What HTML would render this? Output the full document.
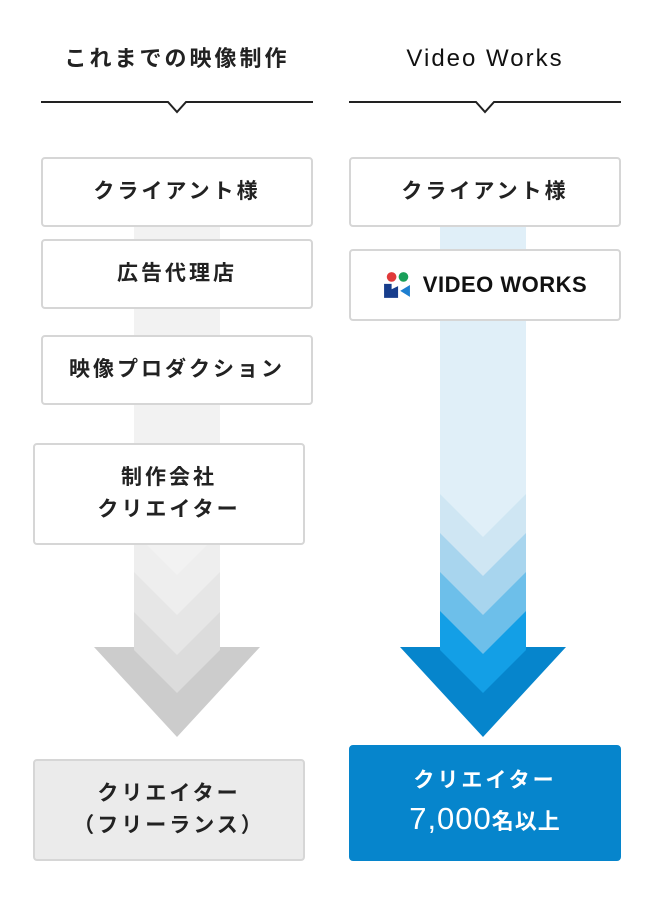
<!DOCTYPE html>
<html><head><meta charset="utf-8"><style>
body{margin:0;width:654px;height:910px;background:#fff;position:relative;overflow:hidden;font-family:"Liberation Sans","Noto Sans CJK JP",sans-serif;font-weight:bold;color:#222}
.t{position:absolute;text-align:center;font-size:22px;letter-spacing:3px;top:44px;width:272px;line-height:30px}
.b{position:absolute;box-sizing:border-box;border:2px solid #d6d6d6;border-radius:4px;background:#fff;display:flex;align-items:center;justify-content:center;text-align:center;font-size:21px;letter-spacing:3px;line-height:32px}
svg{position:absolute;left:0;top:0}
</style></head><body>
<svg width="654" height="910">
<g fill="none" stroke="#222" stroke-width="2">
<polyline points="41,102 168,102 177,112 186,102 313,102"/>
<polyline points="349,102 476,102 485,112 494,102 621,102"/>
</g>
<polygon fill="#cccccc" points="134,600 220,600 220,647 260,647 177,737 94,647 134,647"/>
<polygon fill="#dcdcdc" points="134,220 220,220 220,650 177,693 134,650"/>
<polygon fill="#e6e6e6" points="134,220 220,220 220,612 177,655 134,612"/>
<polygon fill="#eeeeee" points="134,220 220,220 220,572 177,615 134,572"/>
<polygon fill="#f2f2f2" points="134,220 220,220 220,532 177,575 134,532"/>
<polygon fill="#0685cc" points="440,600 526,600 526,647 566,647 483,737 400,647 440,647"/>
<polygon fill="#139fe6" points="440,220 526,220 526,650 483,693 440,650"/>
<polygon fill="#6dbfea" points="440,220 526,220 526,611 483,654 440,611"/>
<polygon fill="#a8d5ee" points="440,220 526,220 526,572 483,615 440,572"/>
<polygon fill="#cfe6f3" points="440,220 526,220 526,533 483,576 440,533"/>
<polygon fill="#e0eff8" points="440,220 526,220 526,494 483,537 440,494"/>
</svg>
<div class="t" style="left:41px">これまでの映像制作</div>
<div class="t" style="left:349px;font-family:'Liberation Sans',sans-serif;font-weight:normal;font-size:24px;letter-spacing:2px;color:#111">Video Works</div>
<div class="b" style="left:41px;top:157px;width:272px;height:70px">クライアント様</div>
<div class="b" style="left:41px;top:239px;width:272px;height:70px">広告代理店</div>
<div class="b" style="left:41px;top:335px;width:272px;height:70px">映像プロダクション</div>
<div class="b" style="left:33px;top:443px;width:272px;height:102px">制作会社<br>クリエイター</div>
<div class="b" style="left:33px;top:759px;width:272px;height:102px;background:#ebebeb">クリエイター<br>（フリーランス）</div>
<div class="b" style="left:349px;top:157px;width:272px;height:70px">クライアント様</div>
<div class="b" style="left:349px;top:249px;width:272px;height:72px;letter-spacing:0">
<svg width="28" height="28" style="position:static;margin-right:12px" viewBox="0 0 26 26">
<circle cx="8" cy="5.5" r="4.5" fill="#e03a3a"/><circle cx="19" cy="5.5" r="4.5" fill="#1aa05a"/>
<polygon points="1,12 8,12 8,17 14,14 14,25 1,25" fill="#173d8c"/>
<polygon points="25,13 25,24 16,18.5" fill="#1e7fd0"/>
</svg><span style="font-size:22px;letter-spacing:0.5px;color:#111;font-family:'Liberation Sans',sans-serif;font-weight:900">VIDEO WORKS</span></div>
<div class="b" style="left:349px;top:745px;width:272px;height:116px;background:#0685cc;border-color:#0685cc;color:#fff;flex-direction:column"><div style="line-height:34px">クリエイター</div><div style="font-size:31px;line-height:42px;letter-spacing:1px"><span style="font-weight:normal">7,000</span><span style="font-size:22px">名以上</span></div></div>
</body></html>
